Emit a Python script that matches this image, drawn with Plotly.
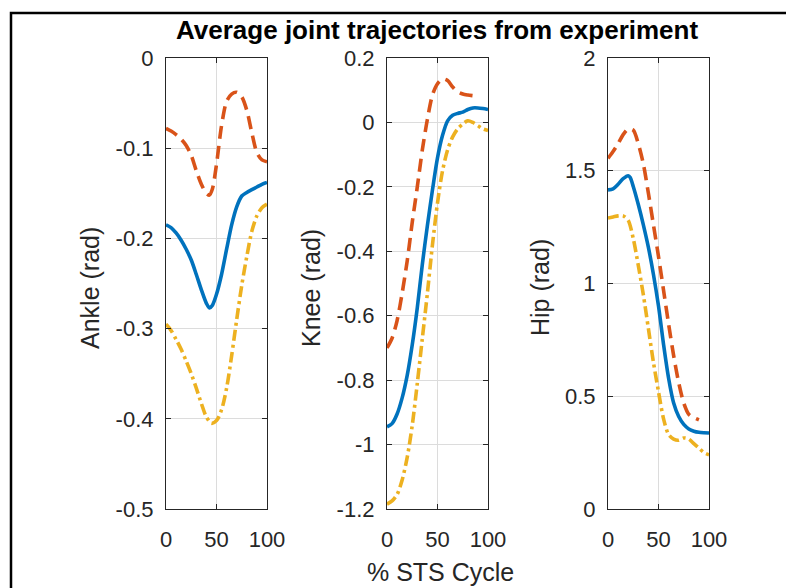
import plotly.graph_objects as go

# ---------------- data ----------------
ankle_x_blue = [0, 5, 10, 15, 20, 25, 30, 35, 40, 43, 46, 50, 55, 60, 65, 70, 75, 80, 85, 90, 95, 100]
ankle_blue = [-0.185, -0.188, -0.194, -0.202, -0.212, -0.224, -0.24, -0.257, -0.272, -0.277, -0.274,
              -0.262, -0.24, -0.212, -0.185, -0.165, -0.153, -0.149, -0.146, -0.143, -0.14, -0.138]
ankle_x_red = [0, 5, 10, 15, 20, 25, 30, 35, 40, 43, 46, 50, 55, 60, 65, 70, 75, 80, 85, 90, 95, 100]
ankle_red = [-0.078, -0.081, -0.085, -0.09, -0.097, -0.108, -0.125, -0.14, -0.15, -0.152, -0.145,
             -0.118, -0.075, -0.048, -0.04, -0.038, -0.043, -0.058, -0.083, -0.105, -0.113, -0.115]
ankle_x_yel = [0, 5, 10, 15, 20, 25, 30, 35, 40, 45, 50, 55, 60, 65, 70, 75, 80, 85, 90, 95, 100]
ankle_yel = [-0.295, -0.302, -0.312, -0.323, -0.336, -0.35, -0.366, -0.383, -0.398, -0.405, -0.402,
             -0.39, -0.366, -0.33, -0.29, -0.252, -0.22, -0.192, -0.175, -0.166, -0.162]

knee_x_blue = [0, 5, 10, 15, 20, 25, 30, 35, 40, 45, 50, 55, 60, 65, 70, 75, 80, 85, 90, 95, 100]
knee_blue = [-0.945, -0.935, -0.905, -0.855, -0.785, -0.69, -0.575, -0.44, -0.32, -0.21, -0.11,
             -0.04, 0.005, 0.022, 0.028, 0.032, 0.04, 0.045, 0.045, 0.043, 0.04]
knee_x_red = [0, 5, 10, 15, 20, 25, 30, 35, 40, 45, 50, 55, 60, 65, 70, 75, 80, 85, 88]
knee_red = [-0.7, -0.67, -0.615, -0.53, -0.43, -0.31, -0.2, -0.085, 0.01, 0.085, 0.12, 0.135,
            0.13, 0.11, 0.095, 0.088, 0.085, 0.083, 0.082]
knee_x_yel = [0, 5, 10, 15, 20, 25, 30, 35, 40, 45, 50, 55, 60, 65, 70, 75, 80, 85, 90, 95, 100]
knee_yel = [-1.185, -1.175, -1.155, -1.11, -1.04, -0.94, -0.81, -0.67, -0.53, -0.38, -0.25,
            -0.15, -0.085, -0.045, -0.02, -0.005, 0.005, 0.0, -0.01, -0.02, -0.025]

hip_x_blue = [0, 5, 10, 15, 20, 22, 25, 30, 35, 40, 45, 50, 55, 60, 65, 70, 75, 80, 85, 90, 95, 100]
hip_blue = [1.415, 1.42, 1.44, 1.465, 1.478, 1.47, 1.43, 1.35, 1.26, 1.16, 1.04, 0.9, 0.73, 0.58,
            0.47, 0.41, 0.375, 0.355, 0.345, 0.34, 0.338, 0.337]
hip_x_red = [0, 5, 10, 15, 20, 25, 30, 35, 40, 45, 50, 55, 60, 65, 70, 75, 80, 85, 90]
hip_red = [1.555, 1.585, 1.62, 1.66, 1.685, 1.68, 1.62, 1.53, 1.4, 1.26, 1.12, 0.97, 0.82, 0.68,
           0.56, 0.47, 0.42, 0.405, 0.395]
hip_x_yel = [0, 5, 10, 15, 20, 25, 30, 35, 40, 45, 50, 55, 60, 65, 70, 75, 80, 85, 90, 95, 100]
hip_yel = [1.29, 1.295, 1.3, 1.3, 1.28, 1.2, 1.08, 0.95, 0.8, 0.65, 0.52, 0.4, 0.33, 0.31, 0.305,
           0.315, 0.31, 0.29, 0.27, 0.25, 0.24]

x_ticks = [0, 50, 100]
x_ticklabels = ["0", "50", "100"]
ankle_ticks = [0, -0.1, -0.2, -0.3, -0.4, -0.5]
ankle_ticklabels = ["0", "-0.1", "-0.2", "-0.3", "-0.4", "-0.5"]
knee_ticks = [0.2, 0, -0.2, -0.4, -0.6, -0.8, -1.0, -1.2]
knee_ticklabels = ["0.2", "0", "-0.2", "-0.4", "-0.6", "-0.8", "-1", "-1.2"]
hip_ticks = [0, 0.5, 1, 1.5, 2]
hip_ticklabels = ["0", "0.5", "1", "1.5", "2"]

title_text = "Average joint trajectories from experiment"
ylabels = ["Ankle (rad)", "Knee (rad)", "Hip (rad)"]
xlabel = "% STS Cycle"

# ---------------- styling ----------------
W, H = 786, 588
BLUE, RED, YEL = "#0072BD", "#D95319", "#EDB120"
AX = "#262626"
GRID = "#dcdcdc"
FONT = "Liberation Sans, Arial, sans-serif"
FS_TICK = 22
FS_LAB = 25

def px_x(p):
    return p / W

def px_y(p):
    return 1 - p / H

panels_x = [(166, 267), (387, 488), (608, 709)]
top, bot = 58, 509

fig = go.Figure()

series = [
    [(ankle_x_blue, ankle_blue), (ankle_x_red, ankle_red), (ankle_x_yel, ankle_yel)],
    [(knee_x_blue, knee_blue), (knee_x_red, knee_red), (knee_x_yel, knee_yel)],
    [(hip_x_blue, hip_blue), (hip_x_red, hip_red), (hip_x_yel, hip_yel)],
]
styles = [
    dict(color=BLUE, width=3.6, dash="solid"),
    dict(color=RED, width=3.6, dash="13px,7px"),
    dict(color=YEL, width=3.6, dash="11px,4px,3px,4px"),
]
yranges = [(-0.5, 0), (-1.2, 0.2), (0, 2)]
yticks = [(ankle_ticks, ankle_ticklabels), (knee_ticks, knee_ticklabels), (hip_ticks, hip_ticklabels)]

layout_axes = {}
for i in range(3):
    xa = "x" if i == 0 else f"x{i+1}"
    ya = "y" if i == 0 else f"y{i+1}"
    for (xs, ys), st in zip(series[i], styles):
        fig.add_trace(go.Scatter(x=xs, y=ys, mode="lines", line=dict(shape="spline", smoothing=0.8, **st),
                                 xaxis=xa, yaxis=ya, showlegend=False, hoverinfo="skip", cliponaxis=True))
    x0, x1 = panels_x[i]
    common = dict(showline=True, linecolor=AX, linewidth=1.2, mirror="allticks", ticks="inside",
                  ticklen=5, tickcolor=AX, tickwidth=1, showgrid=True, gridcolor=GRID, gridwidth=1,
                  zeroline=False, automargin=False,
                  tickfont=dict(family=FONT, size=FS_TICK, color=AX))
    layout_axes["xaxis" if i == 0 else f"xaxis{i+1}"] = dict(
        domain=[px_x(x0), px_x(x1)], range=[0, 100], tickvals=x_ticks, ticktext=x_ticklabels,
        anchor=ya, ticklabelstandoff=10, **common)
    layout_axes["yaxis" if i == 0 else f"yaxis{i+1}"] = dict(
        domain=[px_y(bot), px_y(top)], range=list(yranges[i]), tickvals=yticks[i][0],
        ticktext=yticks[i][1], anchor=xa, ticklabelstandoff=7, **common)

annotations = [
    dict(text=f"<b>{title_text}</b>", x=px_x(437), y=px_y(30), xref="paper", yref="paper",
         showarrow=False, font=dict(family=FONT, size=26, color="#000000"), xanchor="center", yanchor="middle"),
    dict(text=xlabel, x=px_x(440), y=px_y(572), xref="paper", yref="paper",
         showarrow=False, font=dict(family=FONT, size=FS_LAB, color=AX), xanchor="center", yanchor="middle"),
]
for lab, xp in zip(ylabels, [90, 311, 540]):
    annotations.append(dict(text=lab, x=px_x(xp), y=px_y(288), xref="paper", yref="paper", textangle=-90,
                            showarrow=False, font=dict(family=FONT, size=FS_LAB, color=AX),
                            xanchor="center", yanchor="middle"))

fig.update_layout(
    template="none",
    width=W, height=H, margin=dict(l=0, r=0, t=0, b=0, pad=0),
    paper_bgcolor="white", plot_bgcolor="white",
    annotations=annotations,
    shapes=[dict(type="rect", xref="paper", yref="paper", x0=px_x(11), x1=1.05, y0=-0.05, y1=px_y(13),
                 line=dict(color="black", width=2.5), fillcolor="rgba(0,0,0,0)", layer="above")],
    **layout_axes,
)

fig.write_html("out.html", config=dict(displayModeBar=False))
